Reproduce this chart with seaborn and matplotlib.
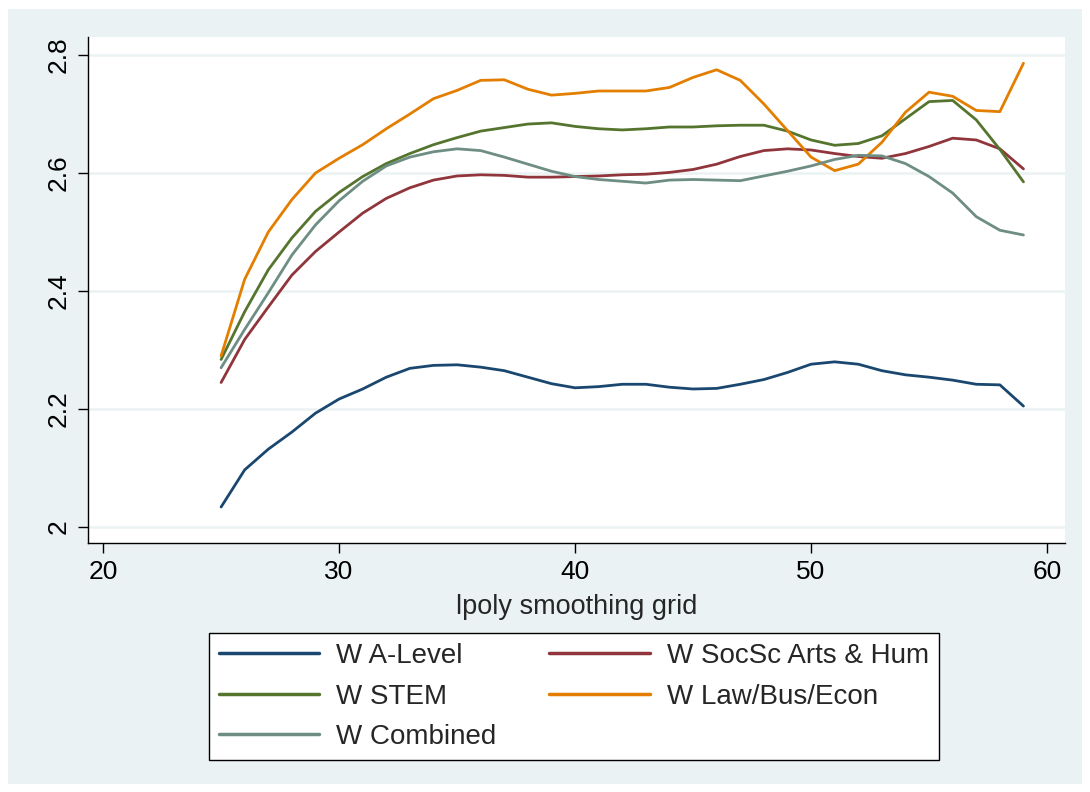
import numpy as np
import pandas as pd
import matplotlib
matplotlib.use("Agg")
import matplotlib.pyplot as plt
import matplotlib.patches as mpatches
import seaborn as sns

# ---- data ----
age = list(range(25, 60))

a_level = [2.034, 2.097, 2.132, 2.161, 2.193, 2.217, 2.234, 2.254, 2.269, 2.274,
           2.275, 2.271, 2.265, 2.254, 2.243, 2.236, 2.238, 2.242, 2.242, 2.237,
           2.234, 2.235, 2.242, 2.250, 2.262, 2.276, 2.280, 2.276, 2.265, 2.258,
           2.254, 2.249, 2.242, 2.241, 2.205]

socsc = [2.245, 2.318, 2.373, 2.427, 2.467, 2.500, 2.532, 2.557, 2.575, 2.588,
         2.595, 2.597, 2.596, 2.593, 2.593, 2.594, 2.595, 2.597, 2.598, 2.601,
         2.606, 2.615, 2.628, 2.638, 2.641, 2.639, 2.633, 2.628, 2.625, 2.633,
         2.645, 2.659, 2.656, 2.641, 2.607]

stem = [2.284, 2.365, 2.436, 2.490, 2.535, 2.567, 2.594, 2.616, 2.633, 2.648,
        2.660, 2.671, 2.677, 2.683, 2.685, 2.679, 2.675, 2.673, 2.675, 2.678,
        2.678, 2.680, 2.681, 2.681, 2.671, 2.656, 2.647, 2.650, 2.663, 2.692,
        2.721, 2.723, 2.690, 2.640, 2.585]

law = [2.290, 2.420, 2.500, 2.555, 2.600, 2.625, 2.648, 2.675, 2.700, 2.726,
       2.740, 2.757, 2.758, 2.742, 2.732, 2.735, 2.739, 2.739, 2.739, 2.745,
       2.762, 2.775, 2.757, 2.717, 2.672, 2.627, 2.604, 2.615, 2.652, 2.703,
       2.737, 2.730, 2.706, 2.704, 2.786]

combined = [2.270, 2.335, 2.397, 2.461, 2.512, 2.553, 2.586, 2.612, 2.627, 2.636,
            2.641, 2.638, 2.627, 2.615, 2.603, 2.594, 2.589, 2.586, 2.583, 2.588,
            2.589, 2.588, 2.587, 2.595, 2.603, 2.612, 2.623, 2.630, 2.629, 2.616,
            2.594, 2.566, 2.526, 2.503, 2.495]

series_names = ["W A-Level", "W SocSc Arts & Hum", "W STEM", "W Law/Bus/Econ", "W Combined"]
series_vals = [a_level, socsc, stem, law, combined]
colors = ["#1A476F", "#90353B", "#55752F", "#E37E00", "#6E8E84"]

x_ticks = [20, 30, 40, 50, 60]
y_ticks = [2.0, 2.2, 2.4, 2.6, 2.8]
y_ticklabels = ["2", "2.2", "2.4", "2.6", "2.8"]

df = pd.concat([pd.DataFrame({"age": age, "value": v, "series": n})
                for n, v in zip(series_names, series_vals)], ignore_index=True)

# ---- figure ----
sns.set_style("white")
plt.rcParams["font.family"] = ["Liberation Sans", "DejaVu Sans"]

W, H = 1090, 792
fig = plt.figure(figsize=(W / 100, H / 100), dpi=100, facecolor="white")
bg = "#EAF2F3"
fig.patches.append(mpatches.Rectangle((8 / W, 8 / H), (W - 16) / W, (H - 17) / H,
                                      transform=fig.transFigure, facecolor=bg,
                                      edgecolor="none", zorder=-10))

ax = fig.add_axes([88 / W, (H - 543) / H, (1065 - 88) / W, (543 - 37) / H])
ax.set_facecolor("white")

sns.lineplot(data=df, x="age", y="value", hue="series", hue_order=series_names,
             palette=dict(zip(series_names, colors)), linewidth=2.0, ax=ax,
             legend=False, estimator=None)

ax.set_xlim(19.36, 60.76)
ax.set_ylim(1.973, 2.8305)
ax.set_xticks(x_ticks)
ax.set_yticks(y_ticks)
ax.set_yticklabels(y_ticklabels, rotation=90, va="center")
ax.grid(axis="y", color=bg, linewidth=1.8)
ax.grid(axis="x", visible=False)
ax.set_axisbelow(True)

for s in ["top", "right"]:
    ax.spines[s].set_visible(False)
for s in ["left", "bottom"]:
    ax.spines[s].set_color("black")
    ax.spines[s].set_linewidth(1.0)

ax.tick_params(axis="both", which="major", direction="out", length=7.5, width=1.0,
               color="black", labelsize=19, labelcolor="black", left=True, bottom=True)
ax.tick_params(axis="y", pad=5)
ax.tick_params(axis="x", pad=5)

ax.set_xlabel("lpoly smoothing grid", fontsize=19.5, labelpad=7)
ax.set_ylabel("")

# legend (row-wise order -> column-wise for matplotlib)
handles = [plt.Line2D([], [], color=c, linewidth=2.5) for c in colors]
order = [0, 2, 4, 1, 3]
leg = fig.legend([handles[i] for i in order], [series_names[i] for i in order],
                 ncol=2, loc="center", bbox_to_anchor=(574 / W, 1 - 696.5 / H),
                 fontsize=20, frameon=True, fancybox=False, edgecolor="black",
                 facecolor="white", framealpha=1, handlelength=3.63,
                 handletextpad=0.61, columnspacing=1.9, labelspacing=0.52,
                 borderpad=0.36)
leg.get_frame().set_linewidth(1.0)

fig.savefig("out.png", dpi=100, facecolor=fig.get_facecolor())
